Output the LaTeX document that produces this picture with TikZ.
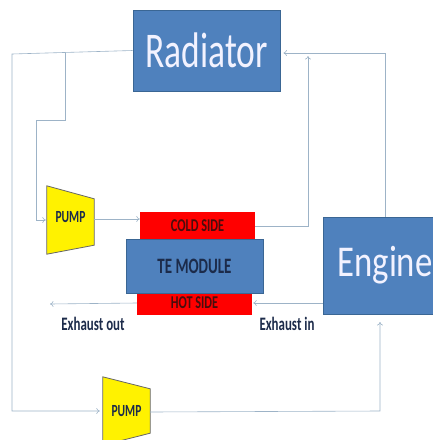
\documentclass[tikz,border=0pt]{standalone}
\usepackage{fontspec}
\setmainfont{Carlito}
\usetikzlibrary{arrows.meta}
\definecolor{boxblue}{HTML}{4F81BD}
\definecolor{boxedge}{HTML}{3A6694}
\definecolor{pipe}{HTML}{9DB3C7}
\definecolor{inkblue}{HTML}{1C2B4A}
\definecolor{inkred}{HTML}{4A0D0D}
\newcommand{\narrow}[2][0.68]{\scalebox{#1}[1]{#2}}
\begin{document}
\begin{tikzpicture}[x=1pt,y=-1pt,>={To[length=3.5pt,width=6pt]},
  bluebox/.style={draw=boxedge,fill=boxblue,line width=0.8pt,inner sep=0pt},
  redbox/.style={fill=red,inner sep=0pt,text=inkred,font=\bfseries\fontsize{18}{18}\selectfont},
  pumpbox/.style={inner sep=0pt,minimum width=47,font=\bfseries\fontsize{17}{17}\selectfont,text=inkblue},
  pumpbody/.style={draw=black!60,fill=yellow,line width=0.8pt},
  line/.style={pipe,line width=0.6pt},
  lbl/.style={font=\bfseries\fontsize{19}{19}\selectfont,text=inkblue}]
\clip (0,0) rectangle (433,440);
% radiator and engine
\node[bluebox,minimum width=147,minimum height=81,text=white!95!blue,
  font=\fontsize{50}{50}\selectfont] (rad) at (206.5,50.5) {\narrow[0.71]{Radiator}};
\node[bluebox,minimum width=124,minimum height=97,text=white!95!blue,
  font=\fontsize{44}{44}\selectfont] (eng) at (385,265.5) {\narrow[0.79]{Engine}};
% thermoelectric stack
\node[redbox,minimum width=115,minimum height=28] (cold) at (197.5,226) {\narrow{COLD SIDE}};
\node[redbox,minimum width=115,minimum height=24] (hot) at (194.5,303) {\raisebox{-1pt}{\narrow{HOT SIDE}}};
\node[bluebox,minimum width=137,minimum height=54,text=inkblue,
  font=\bfseries\fontsize{22}{22}\selectfont] (te) at (194.5,266) {\narrow{TE MODULE}};
% pumps
\node[pumpbox,minimum height=68] (pa) at (70.5,220) {};
\fill[pumpbody] (pa.north west) -- ([yshift=-13]pa.north east) -- ([yshift=9]pa.south east) -- (pa.south west) -- cycle;
\node[pumpbox] at ([yshift=3]pa.center) {\narrow{PUMP}};
\node[pumpbox,minimum height=68] (pb) at (126.5,411) {};
\fill[pumpbody] (pb.north west) -- ([yshift=-12]pb.north east) -- ([yshift=12]pb.south east) -- (pb.south west) -- cycle;
\node[pumpbox] at (pb.center) {\narrow{PUMP}};
% free ends
\coordinate (tl) at (12,54);
\coordinate (lo) at (65,53);
\coordinate (lm) at (36,120);
\coordinate (xo) at (50,304);
\coordinate (cr) at (308,56);
\coordinate (er) at (385,53);
\coordinate (eb) at (380,322);
% pipes
\draw[line,->] (rad.west) -- (tl) -- (tl |- pb.west) -- ([xshift=-3]pb.west);
\draw[line,->] (lo) -- (lo |- lm) -- (lm) -- (lm |- pa.west) -- ([xshift=-1]pa.west);
\draw[line,->] ([yshift=1]pa.east) -- ([yshift=7]cold.west);
\draw[line,->] (cold.east) -- (cold.east -| cr) -- (cr);
\draw[line,->] (eng.north -| er) -- (er) -- ([xshift=3]rad.east |- er);
\draw[line,->] (eng.west |- hot.east) -- ([xshift=1]hot.east);
\draw[line,->] (hot.west) -- (xo);
\draw[line,->] ([yshift=-1]pb.east) -- (pb.east -| eb) -- (eb);
% exhaust labels
\node[lbl] (xout) at (93,324) {\narrow{Exhaust out}};
\node[lbl] (xin) at (287,324) {\narrow{Exhaust in}};
\end{tikzpicture}
\end{document}
